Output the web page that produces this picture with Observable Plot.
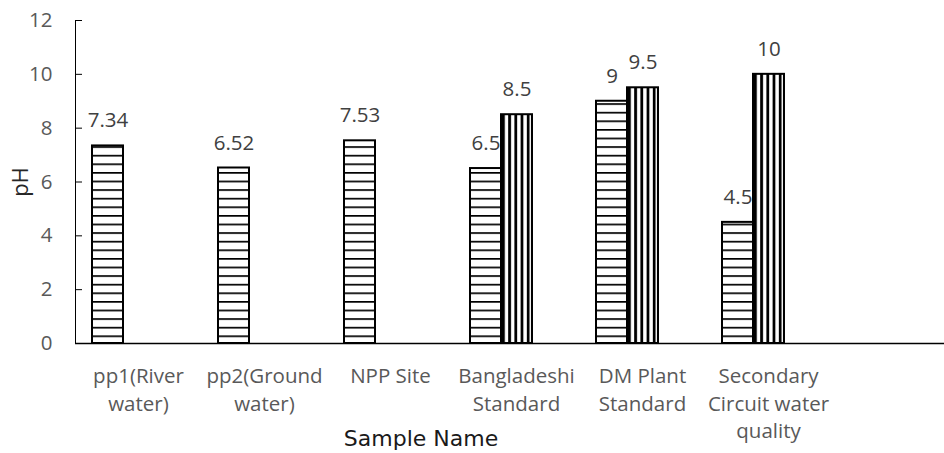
<!DOCTYPE html>
<html><head><meta charset="utf-8">
<script src="https://cdn.jsdelivr.net/npm/d3@7"></script>
<script src="https://cdn.jsdelivr.net/npm/@observablehq/plot@0.6"></script>
<style>
body{margin:0;background:#fff;}
#wrap{position:relative;width:944px;height:453px;overflow:hidden;}
#xtitle{position:absolute;left:321px;top:428px;width:200px;text-align:center;font-family:'DejaVu Sans', sans-serif;font-size:22px;color:#1a1a1a;line-height:1;}
svg [aria-label="y-axis tick label"], svg [aria-label="fx-axis tick label"]{fill:#595959;}
svg [aria-label="y-axis label"]{fill:#262626;font-size:22px;}
</style></head><body>
<div id="wrap"><div id="xtitle">Sample Name</div></div>
<script>
const categories = ["pp1(River water)", "pp2(Ground water)", "NPP Site", "Bangladeshi Standard", "DM Plant Standard", "Secondary Circuit water quality", ""];
const categoryLabels = ["pp1(River\nwater)", "pp2(Ground\nwater)", "NPP Site", "Bangladeshi\nStandard", "DM Plant\nStandard", "Secondary\nCircuit water\nquality", ""];
const seriesNames = ["S1", "S2", "S3"];
const series1 = [7.34, 6.52, 7.53, 6.5, 9, 4.5];
const series1Labels = ["7.34", "6.52", "7.53", "6.5", "9", "4.5"];
const series2 = [null, null, null, 8.5, 9.5, 10];
const series2Labels = [null, null, null, "8.5", "9.5", "10"];
const yTicks = [0, 2, 4, 6, 8, 10, 12];

const rows1 = series1.map((v, i) => ({cat: categories[i], series: "S1", value: v, label: series1Labels[i]}));
const rows2 = series2.map((v, i) => ({cat: categories[i], series: "S2", value: v, label: series2Labels[i]})).filter(d => d.value != null);
const baseRows = categories.map(c => ({cat: c}));

const chart = Plot.plot({
  width: 944,
  height: 453,
  marginLeft: 75,
  marginRight: 0,
  marginTop: 20,
  marginBottom: 110,
  style: {fontFamily: "'Open Sans', sans-serif", fontSize: "20.5px", background: "#fff", color: "#000", overflow: "visible"},
  fx: {domain: categories, range: [75, 957], padding: 0},
  x: {domain: seriesNames, paddingInner: 0, paddingOuter: 0.5, axis: null},
  y: {domain: [0, 12], ticks: yTicks, tickSize: -7, tickPadding: 30, line: true, label: "pH", labelAnchor: "center", labelArrow: "none", labelOffset: 63},
  marks: [
    Plot.barY(rows1, {fx: "cat", x: "series", y: "value", fill: "url(#hatchH)", stroke: "#000", strokeWidth: 2}),
    Plot.barY(rows2, {fx: "cat", x: "series", y: "value", fill: "url(#hatchV)", stroke: "#000", strokeWidth: 2}),
    Plot.ruleY(baseRows, {fx: "cat", y: 0, stroke: "#000", strokeWidth: 1.5}),
    Plot.text(rows1, {fx: "cat", x: "series", y: "value", text: "label", dy: -25, lineAnchor: "middle", fill: "#404040"}),
    Plot.text(rows2, {fx: "cat", x: "series", y: "value", text: "label", dy: -25, lineAnchor: "middle", fill: "#404040"}),
    Plot.axisFx({anchor: "bottom", tickSize: 0, tickPadding: 20, lineHeight: 1.35, label: null,
      tickFormat: c => categoryLabels[categories.indexOf(c)]})
  ]
});

const svg = d3.select(chart.tagName.toLowerCase() === "svg" ? chart : chart.querySelector("svg"));
const defs = svg.insert("defs", ":first-child");
const ph = defs.append("pattern").attr("id", "hatchH").attr("patternUnits", "userSpaceOnUse").attr("width", 10).attr("height", 8.6);
ph.append("rect").attr("width", 10).attr("height", 8.6).attr("fill", "#fff");
ph.append("rect").attr("y", 0).attr("width", 10).attr("height", 1.7).attr("fill", "#000");
const pv = defs.append("pattern").attr("id", "hatchV").attr("patternUnits", "userSpaceOnUse").attr("width", 6.2).attr("height", 10);
pv.append("rect").attr("width", 6.2).attr("height", 10).attr("fill", "#fff");
pv.append("rect").attr("x", 0).attr("width", 2.8).attr("height", 10).attr("fill", "#000");

document.getElementById("wrap").prepend(chart);
</script>
</body></html>
